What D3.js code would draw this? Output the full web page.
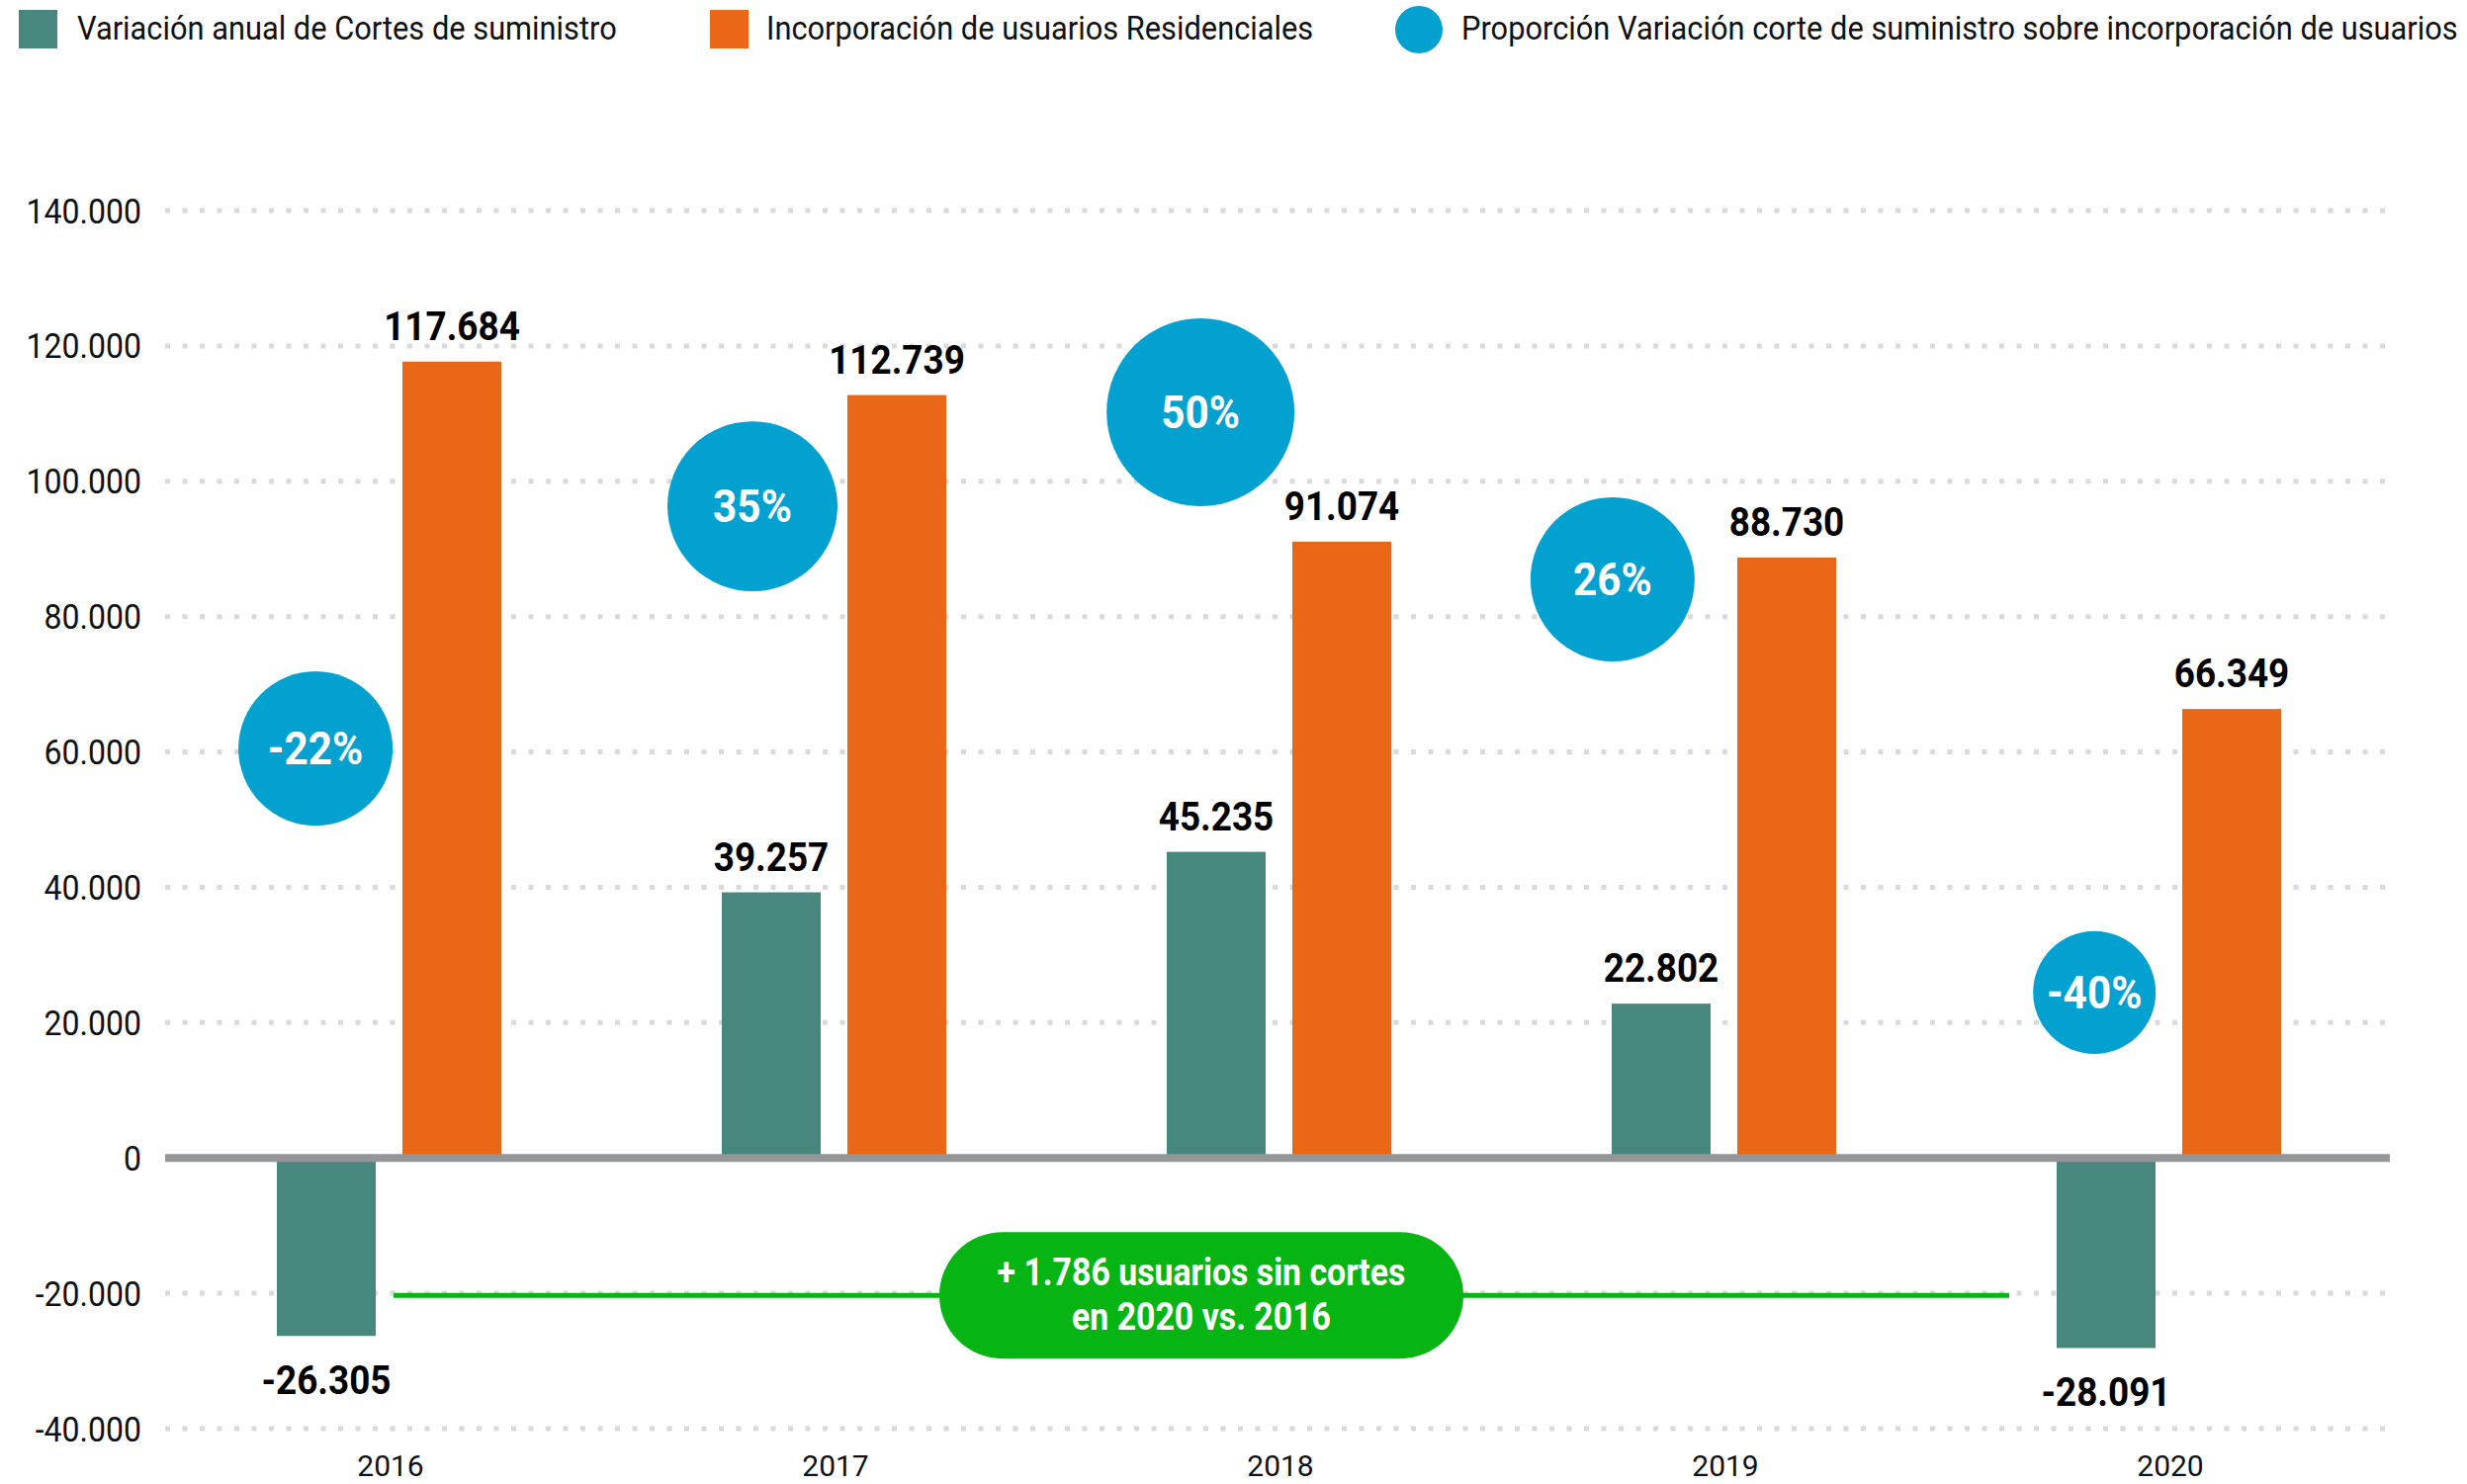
<!DOCTYPE html>
<html><head><meta charset="utf-8">
<script src="https://cdn.jsdelivr.net/npm/d3@7"></script>
<style>html,body{margin:0;padding:0;background:#fff;}svg{display:block;}</style>
</head><body>
<svg id="chart" width="2495" height="1501"></svg>
<script>
// ---- data ----
const years = ["2016", "2017", "2018", "2019", "2020"];
const cortesVariation = [-26305, 39257, 45235, 22802, -28091];
const residentialUsers = [117684, 112739, 91074, 88730, 66349];
const proportionLabels = ["-22%", "35%", "50%", "26%", "-40%"];
// bubble placement (value units on the y axis) and size (value units), band offset
const bubbleLevel = [60500, 96300, 110200, 85500, 24450];
const bubbleSize = [11400, 12560, 13880, 12130, 9060];
const bubbleShift = [-0.162, -0.18, -0.173, -0.247, -0.164];
const yTicks = [-40000, -20000, 0, 20000, 40000, 60000, 80000, 100000, 120000, 140000];
const legendLabels = ["Variación anual de Cortes de suministro", "Incorporación de usuarios Residenciales", "Proporción Variación corte de suministro sobre incorporación de usuarios"];
const annotationLines = ["+ 1.786 usuarios sin cortes", "en 2020 vs. 2016"];
const annotationLevel = -20300;

const C_TEAL = "#48877d", C_ORANGE = "#e96818", C_BLUE = "#03a1d0", C_GREEN = "#06b513";
const FONT = "Roboto, 'Noto Sans', sans-serif";
const fmt = v => d3.format(",")(v).replace(/,/g, ".").replace(/\u2212/g, "-");

const svg = d3.select("#chart");
const x = d3.scaleBand().domain(years).range([167, 2417]).padding(0);
const y = d3.scaleLinear().domain([-40000, 140000]).range([1445, 213]);
const bw = x.bandwidth();
const barW = 100, gap = 27;

function ctext(parent, px, py, str, o) {
  const g = parent.append("g").attr("transform", `translate(${px},${py}) scale(${o.sx || 1},1)`);
  return g.append("text").text(str)
    .attr("font-family", FONT).attr("font-size", o.size).attr("font-weight", o.weight || 400)
    .attr("fill", o.fill || "#000").attr("text-anchor", o.anchor || "start")
    .attr("dominant-baseline", o.baseline || "auto");
}

// gridlines
svg.append("g").selectAll("line").data(yTicks.filter(t => t !== 0)).join("line")
  .attr("x1", 167).attr("x2", 2417).attr("y1", d => y(d)).attr("y2", d => y(d))
  .attr("stroke", "#dadada").attr("stroke-width", 5).attr("stroke-dasharray", "5 12.5");

// y tick labels via axis
const yAxis = svg.append("g").attr("transform", "translate(143,0)")
  .call(d3.axisLeft(y).tickValues(yTicks).tickSize(0).tickPadding(0).tickFormat(fmt));
yAxis.select(".domain").remove();
yAxis.selectAll("text").attr("font-family", FONT).attr("font-size", 36).attr("fill", "#111")
  .attr("dy", "0.35em").attr("transform", "scale(0.89,1)");
yAxis.selectAll(".tick").attr("transform", d => `translate(0,${y(d)})`);

// x axis labels
const xAxis = svg.append("g").attr("transform", "translate(3,1493)")
  .call(d3.axisBottom(x).tickSize(0).tickPadding(0));
xAxis.select(".domain").remove();
xAxis.selectAll("text").attr("font-family", FONT).attr("font-size", 30).attr("fill", "#111").attr("dy", 0);

// bars
const bars = svg.append("g");
bars.selectAll("rect.teal").data(years).join("rect").attr("class", "teal")
  .attr("x", d => x(d) + bw / 2 - gap / 2 - barW + 1.5).attr("width", barW)
  .attr("y", (d, i) => y(Math.max(0, cortesVariation[i])))
  .attr("height", (d, i) => Math.abs(y(cortesVariation[i]) - y(0)))
  .attr("fill", C_TEAL);
bars.selectAll("rect.orange").data(years).join("rect").attr("class", "orange")
  .attr("x", d => x(d) + bw / 2 + gap / 2 + 1.5).attr("width", barW)
  .attr("y", (d, i) => y(residentialUsers[i]))
  .attr("height", (d, i) => y(0) - y(residentialUsers[i]))
  .attr("fill", C_ORANGE);

// zero line
svg.append("line").attr("x1", 167).attr("x2", 2417).attr("y1", y(0)).attr("y2", y(0))
  .attr("stroke", "#939598").attr("stroke-width", 8);

// value labels
const lab = svg.append("g");
years.forEach((yr, i) => {
  const v = cortesVariation[i];
  const cx = x(yr) + bw / 2 - gap / 2 - barW / 2 + 1.5;
  const py = v >= 0 ? y(v) - 22 : y(v) + 59;
  ctext(lab, cx, py, fmt(v), { size: 41, weight: 700, anchor: "middle", sx: 0.9 });
  const w = residentialUsers[i];
  const ox = x(yr) + bw / 2 + gap / 2 + barW / 2 + 1.5;
  ctext(lab, ox, y(w) - 22, fmt(w), { size: 41, weight: 700, anchor: "middle", sx: 0.9 });
});

// green annotation line + pill
const ay = y(annotationLevel);
svg.append("line").attr("x1", 398).attr("x2", 2032).attr("y1", ay).attr("y2", ay)
  .attr("stroke", C_GREEN).attr("stroke-width", 5);
const pill = svg.append("g");
const pcx = (x("2018") + bw / 2) - 77, pw = 530, ph = 128;
pill.append("rect").attr("x", pcx - pw / 2).attr("y", ay - ph / 2).attr("width", pw).attr("height", ph)
  .attr("rx", ph / 2).attr("ry", ph / 2).attr("fill", C_GREEN);
ctext(pill, pcx, ay - 10, annotationLines[0], { size: 38, weight: 700, anchor: "middle", fill: "#fff", sx: 0.89 });
ctext(pill, pcx, ay + 35, annotationLines[1], { size: 38, weight: 700, anchor: "middle", fill: "#fff", sx: 0.89 });

// bubbles
const bub = svg.append("g");
years.forEach((yr, i) => {
  const bx = x(yr) + bw * (0.5 + bubbleShift[i]);
  const by = y(bubbleLevel[i]);
  const r = y(0) - y(bubbleSize[i]);
  bub.append("circle").attr("cx", bx).attr("cy", by).attr("r", r).attr("fill", C_BLUE);
  ctext(bub, bx, by + 16, proportionLabels[i], { size: 46, weight: 700, anchor: "middle", fill: "#fff", sx: 0.92 });
});

// legend
const leg = svg.append("g");
leg.append("rect").attr("x", 19).attr("y", 10).attr("width", 39).attr("height", 39).attr("fill", C_TEAL);
ctext(leg, 78, 40, legendLabels[0], { size: 34, fill: "#111", sx: 0.906 });
leg.append("rect").attr("x", 718).attr("y", 10).attr("width", 39).attr("height", 39).attr("fill", C_ORANGE);
ctext(leg, 775, 40, legendLabels[1], { size: 34, fill: "#111", sx: 0.906 });
leg.append("circle").attr("cx", 1435).attr("cy", 30).attr("r", 24).attr("fill", C_BLUE);
ctext(leg, 1478, 40, legendLabels[2], { size: 34, fill: "#111", sx: 0.906 });
</script>
</body></html>
